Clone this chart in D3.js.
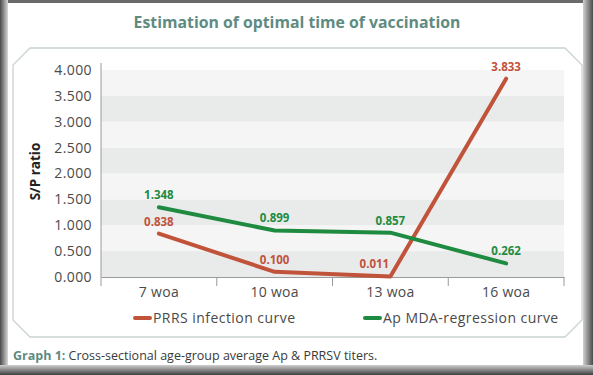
<!DOCTYPE html>
<html>
<head>
<meta charset="utf-8">
<script src="https://cdn.jsdelivr.net/npm/d3@7/dist/d3.min.js"></script>
<style>
  html, body { margin: 0; padding: 0; background: #fff; }
  svg { display: block; font-family: "Open Sans", sans-serif; }
</style>
</head>
<body>
<div id="chart"></div>
<script>
/* S/P ratio by age group: PRRS infection vs Ap MDA regression */
const categories = ["7 woa", "10 woa", "13 woa", "16 woa"];
const prrs = [0.838, 0.100, 0.011, 3.833];
const apMda = [1.348, 0.899, 0.857, 0.262];
const yTicks = [0, 0.5, 1, 1.5, 2, 2.5, 3, 3.5, 4];

const series = [
  { name: "PRRS infection curve", values: prrs, color: "#c1533b" },
  { name: "Ap MDA-regression curve", values: apMda, color: "#1f8b40" }
];

const W = 593, H = 375;
const m = { t: 70, r: 29, b: 98, l: 101 };
const svg = d3.select("#chart").append("svg").attr("width", W).attr("height", H);

// photo-like frame
const defs = svg.append("defs");
const gl = defs.append("linearGradient").attr("id", "gl").attr("x1", 0).attr("x2", 1);
gl.append("stop").attr("offset", 0).attr("stop-color", "#4a4a4a");
gl.append("stop").attr("offset", 1).attr("stop-color", "#d8d8d8");
const gr = defs.append("linearGradient").attr("id", "gr").attr("x1", 1).attr("x2", 0);
gr.append("stop").attr("offset", 0).attr("stop-color", "#4a4a4a");
gr.append("stop").attr("offset", 1).attr("stop-color", "#d0d0d0");
const gb = defs.append("linearGradient").attr("id", "gb").attr("x1", 0).attr("x2", 0).attr("y1", 1).attr("y2", 0);
gb.append("stop").attr("offset", 0).attr("stop-color", "#3e3e3e");
gb.append("stop").attr("offset", 1).attr("stop-color", "#cfcfcf");
svg.append("rect").attr("width", W).attr("height", 3).attr("fill", "#6a6a6a");
svg.append("rect").attr("width", 8).attr("height", H).attr("fill", "url(#gl)");
svg.append("rect").attr("x", W - 10).attr("width", 10).attr("height", H).attr("fill", "url(#gr)");
svg.append("rect").attr("y", H - 10).attr("width", W).attr("height", 10).attr("fill", "url(#gb)");

svg.append("text").attr("x", 297).attr("y", 28).attr("text-anchor", "middle")
  .attr("fill", "#5e8b82").attr("font-weight", 700).attr("font-size", 15.8)
  .text("Estimation of optimal time of vaccination");

// chamfered panel
const px0 = 13, px1 = 582, py0 = 48, py1 = 337, c = 17;
svg.append("path")
  .attr("d", `M${px0 + c},${py0}H${px1 - c}L${px1},${py0 + c}V${py1 - c}L${px1 - c},${py1}H${px0 + c}L${px0},${py1 - c}V${py0 + c}Z`)
  .attr("fill", "#fff").attr("stroke", "#c9d3d2").attr("stroke-width", 1.3);

const x = d3.scaleBand().domain(categories).range([m.l, W - m.r]);
const y = d3.scaleLinear().domain([0, 4]).range([H - m.b, m.t]);

// alternating bands
svg.append("g").selectAll("rect").data(yTicks.slice(0, -1)).join("rect")
  .attr("x", m.l).attr("width", W - m.r - m.l)
  .attr("y", d => y(d + 0.5)).attr("height", d => y(d) - y(d + 0.5))
  .attr("fill", (d, i) => i % 2 === 0 ? "#e9ebeb" : "#f5f5f5");

const yAxis = svg.append("g").attr("transform", `translate(${m.l},0)`)
  .call(d3.axisLeft(y).tickValues(yTicks).tickFormat(d3.format(".3f")).tickSize(0).tickPadding(9));
yAxis.select(".domain").attr("stroke", "#9a9a9a").attr("d", `M0,${y(0)}V${y(4) - 7}`);
yAxis.selectAll("text").attr("font-size", 14).attr("fill", "#4a4a4a")
  .attr("font-family", "Open Sans").attr("letter-spacing", 0.4);

const xAxis = svg.append("g").attr("transform", `translate(0,${H - m.b})`)
  .call(d3.axisBottom(x).tickSize(0).tickPadding(10));
xAxis.select(".domain").attr("stroke", "#9a9a9a");
xAxis.selectAll("text").attr("font-size", 14).attr("fill", "#4a4a4a")
  .attr("font-family", "Open Sans").attr("letter-spacing", 0.3);
xAxis.selectAll(".sep").data(categories.concat([null])).join("line").attr("class", "sep")
  .attr("x1", (d, i) => m.l + i * x.bandwidth()).attr("x2", (d, i) => m.l + i * x.bandwidth())
  .attr("y1", 0).attr("y2", 9).attr("stroke", "#9a9a9a");

svg.append("text").attr("transform", `translate(40,${y(2) - 2}) rotate(-90)`)
  .attr("text-anchor", "middle").attr("font-size", 13.5).attr("font-weight", 700).attr("fill", "#222")
  .text("S/P ratio");

const cx = d => x(d) + x.bandwidth() / 2;
const line = d3.line().x((v, i) => cx(categories[i])).y(v => y(v));

series.forEach(s => {
  svg.append("path").datum(s.values).attr("d", line)
    .attr("fill", "none").attr("stroke", s.color).attr("stroke-width", 4)
    .attr("stroke-linecap", "round").attr("stroke-linejoin", "round");
});

series.forEach(s => {
  svg.append("g").selectAll("text").data(s.values).join("text")
    .attr("x", (v, i) => cx(categories[i]) + (s.values === prrs && i === 2 ? -16 : 0))
    .attr("y", v => y(v) - 8)
    .attr("text-anchor", "middle").attr("font-size", 11.5).attr("font-weight", 700)
    .attr("fill", s.color).text(d3.format(".3f"));
});

// legend
const lg = svg.append("g").attr("transform", `translate(0,318)`);
[135, 365].forEach((lx, i) => {
  lg.append("line").attr("x1", lx).attr("x2", lx + 15).attr("stroke", series[i].color)
    .attr("stroke-width", 4).attr("stroke-linecap", "round");
  lg.append("text").attr("x", lx + 18).attr("y", 5).attr("font-size", 14).attr("fill", "#4a4a4a")
    .attr("letter-spacing", 0.45).text(series[i].name);
});

const cap = svg.append("text").attr("x", 13).attr("y", 360).attr("font-size", 12.5).attr("fill", "#3a3a3a");
cap.append("tspan").attr("font-weight", 700).attr("fill", "#5e8b82").text("Graph 1: ");
cap.append("tspan").text("Cross-sectional age-group average Ap & PRRSV titers.");
</script>
</body>
</html>
